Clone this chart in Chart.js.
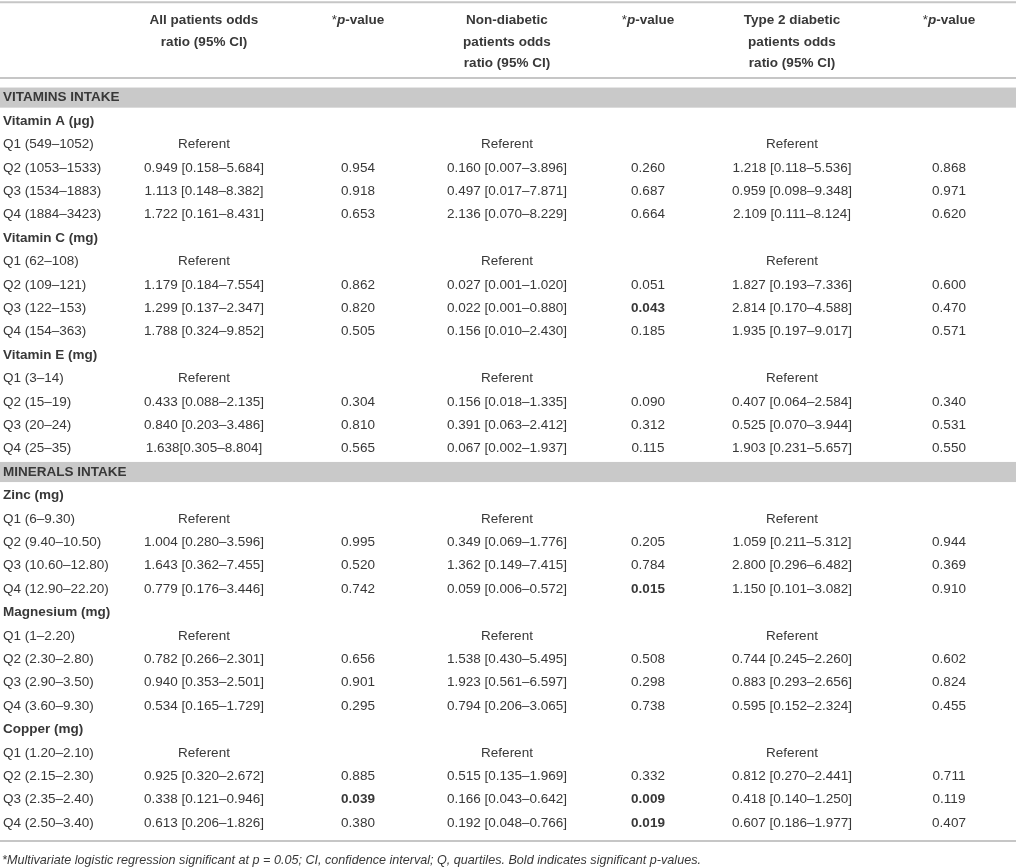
<!DOCTYPE html>
<html>
<head>
<meta charset="utf-8">
<title>Odds ratios by vitamin and mineral intake</title>
<script src="https://cdn.jsdelivr.net/npm/chart.js@4.4.1/dist/chart.umd.min.js"></script>
<style>
  html, body { margin: 0; padding: 0; background: #fff; }
  #wrap { width: 1016px; height: 868px; position: relative; }
</style>
</head>
<body>
<div id="wrap"><canvas id="orTable"></canvas></div>
<script>
// ---- data ----
const sections = ["VITAMINS INTAKE", "MINERALS INTAKE"];
const nutrients = ["Vitamin A (μg)", "Vitamin C (mg)", "Vitamin E (mg)", "Zinc (mg)", "Magnesium (mg)", "Copper (mg)"];
const nutrientSection = [0, 0, 0, 1, 1, 1];
const quartileRanges = [
  ["549–1052", "1053–1533", "1534–1883", "1884–3423"],
  ["62–108", "109–121", "122–153", "154–363"],
  ["3–14", "15–19", "20–24", "25–35"],
  ["6–9.30", "9.40–10.50", "10.60–12.80", "12.90–22.20"],
  ["1–2.20", "2.30–2.80", "2.90–3.50", "3.60–9.30"],
  ["1.20–2.10", "2.15–2.30", "2.35–2.40", "2.50–3.40"]
];

// odds ratios for Q2..Q4 (Q1 is the referent)
const allOR = [
  ["0.949 [0.158–5.684]", "1.113 [0.148–8.382]", "1.722 [0.161–8.431]"],
  ["1.179 [0.184–7.554]", "1.299 [0.137–2.347]", "1.788 [0.324–9.852]"],
  ["0.433 [0.088–2.135]", "0.840 [0.203–3.486]", "1.638[0.305–8.804]"],
  ["1.004 [0.280–3.596]", "1.643 [0.362–7.455]", "0.779 [0.176–3.446]"],
  ["0.782 [0.266–2.301]", "0.940 [0.353–2.501]", "0.534 [0.165–1.729]"],
  ["0.925 [0.320–2.672]", "0.338 [0.121–0.946]", "0.613 [0.206–1.826]"]
];
const allP = [
  [0.954, 0.918, 0.653], [0.862, 0.820, 0.505], [0.304, 0.810, 0.565],
  [0.995, 0.520, 0.742], [0.656, 0.901, 0.295], [0.885, 0.039, 0.380]
];
const nonDiabeticOR = [
  ["0.160 [0.007–3.896]", "0.497 [0.017–7.871]", "2.136 [0.070–8.229]"],
  ["0.027 [0.001–1.020]", "0.022 [0.001–0.880]", "0.156 [0.010–2.430]"],
  ["0.156 [0.018–1.335]", "0.391 [0.063–2.412]", "0.067 [0.002–1.937]"],
  ["0.349 [0.069–1.776]", "1.362 [0.149–7.415]", "0.059 [0.006–0.572]"],
  ["1.538 [0.430–5.495]", "1.923 [0.561–6.597]", "0.794 [0.206–3.065]"],
  ["0.515 [0.135–1.969]", "0.166 [0.043–0.642]", "0.192 [0.048–0.766]"]
];
const nonDiabeticP = [
  [0.260, 0.687, 0.664], [0.051, 0.043, 0.185], [0.090, 0.312, 0.115],
  [0.205, 0.784, 0.015], [0.508, 0.298, 0.738], [0.332, 0.009, 0.019]
];
const type2OR = [
  ["1.218 [0.118–5.536]", "0.959 [0.098–9.348]", "2.109 [0.111–8.124]"],
  ["1.827 [0.193–7.336]", "2.814 [0.170–4.588]", "1.935 [0.197–9.017]"],
  ["0.407 [0.064–2.584]", "0.525 [0.070–3.944]", "1.903 [0.231–5.657]"],
  ["1.059 [0.211–5.312]", "2.800 [0.296–6.482]", "1.150 [0.101–3.082]"],
  ["0.744 [0.245–2.260]", "0.883 [0.293–2.656]", "0.595 [0.152–2.324]"],
  ["0.812 [0.270–2.441]", "0.418 [0.140–1.250]", "0.607 [0.186–1.977]"]
];
const type2P = [
  [0.868, 0.971, 0.620], [0.600, 0.470, 0.571], [0.340, 0.531, 0.550],
  [0.944, 0.369, 0.910], [0.602, 0.824, 0.455], [0.711, 0.119, 0.407]
];

const columnHeaders = [
  ["All patients odds", "ratio (95% CI)"],
  ["*p-value"],
  ["Non-diabetic", "patients odds", "ratio (95% CI)"],
  ["*p-value"],
  ["Type 2 diabetic", "patients odds", "ratio (95% CI)"],
  ["*p-value"]
];
const footnote = "*Multivariate logistic regression significant at p = 0.05; CI, confidence interval; Q, quartiles. Bold indicates significant p-values.";
const SIGNIFICANCE = 0.05;

// ---- layout ----
const FONT = '"Liberation Sans", Arial, Helvetica, sans-serif';
const TEXT_COLOR = "#383838";
const BAND_COLOR = "#c9c9c9";
const RULE_COLOR = "#c6c6c6";
const ROW_PX = 23.4;
const FIRST_ROW_PX = 97.6;
const LABEL_X = 3;
const COL_X = [204, 358, 507, 648, 792, 949];
const HEADER_ROWS = [-3.32, -2.38, -1.48];
const RULES = [-4.08, -0.84, 31.77];
const FOOTNOTE_ROW = 32.62;
const BAND_HALF = 0.43;

// ---- build cells ----
const cells = [];
const bandRows = [];

function seg(text, style) { return { text, style: style || "400" }; }
function pSegs() { return [seg("*", "400"), seg("p", "italic 700"), seg("-value", "700")]; }

columnHeaders.forEach((lines, c) => {
  lines.forEach((line, i) => {
    const segs = line === "*p-value" ? pSegs() : [seg(line, "700")];
    cells.push({ x: COL_X[c], y: HEADER_ROWS[i], segs, align: "center" });
  });
});

const orCols = [allOR, nonDiabeticOR, type2OR];
const pCols = [allP, nonDiabeticP, type2P];

let row = 0;
let lastSection = -1;
nutrients.forEach((name, n) => {
  if (nutrientSection[n] !== lastSection) {
    lastSection = nutrientSection[n];
    bandRows.push(row);
    cells.push({ x: LABEL_X, y: row, segs: [seg(sections[lastSection], "700")], align: "left" });
    row++;
  }
  cells.push({ x: LABEL_X, y: row, segs: [seg(name, "700")], align: "left" });
  row++;
  quartileRanges[n].forEach((range, q) => {
    cells.push({ x: LABEL_X, y: row, segs: [seg("Q" + (q + 1) + " (" + range + ")")], align: "left" });
    orCols.forEach((src, k) => {
      const orText = q === 0 ? "Referent" : src[n][q - 1];
      cells.push({ x: COL_X[k * 2], y: row, segs: [seg(orText)], align: "center" });
      if (q > 0) {
        const p = pCols[k][n][q - 1];
        cells.push({ x: COL_X[k * 2 + 1], y: row, segs: [seg(p.toFixed(3), p < SIGNIFICANCE ? "700" : "400")], align: "center" });
      }
    });
    row++;
  });
});

cells.push({ x: 2, y: FOOTNOTE_ROW, segs: [seg(footnote, "italic 400")], align: "left", size: 12.6 });

// ---- drawing plugin ----
const tablePlugin = {
  id: "tableCells",
  beforeDatasetsDraw(chart) {
    const { ctx, chartArea, scales } = chart;
    const y = scales.y;
    ctx.save();
    ctx.fillStyle = BAND_COLOR;
    bandRows.forEach(r => {
      const top = y.getPixelForValue(r - BAND_HALF);
      const bottom = y.getPixelForValue(r + BAND_HALF);
      ctx.fillRect(chartArea.left, top, chartArea.width, bottom - top);
    });
    ctx.strokeStyle = RULE_COLOR;
    ctx.lineWidth = 2;
    RULES.forEach(r => {
      const py = y.getPixelForValue(r);
      ctx.beginPath();
      ctx.moveTo(chartArea.left, py);
      ctx.lineTo(chartArea.right, py);
      ctx.stroke();
    });
    ctx.restore();
  },
  afterDatasetsDraw(chart) {
    const { ctx } = chart;
    const meta = chart.getDatasetMeta(0);
    ctx.save();
    ctx.fillStyle = TEXT_COLOR;
    ctx.textBaseline = "middle";
    ctx.textAlign = "left";
    meta.data.forEach((pt, i) => {
      const cell = cells[i];
      const size = cell.size || 13.5;
      const widths = cell.segs.map(s => {
        ctx.font = s.style + " " + size + "px " + FONT;
        return ctx.measureText(s.text).width;
      });
      const total = widths.reduce((a, b) => a + b, 0);
      let x = cell.align === "center" ? pt.x - total / 2 : pt.x;
      cell.segs.forEach((s, j) => {
        ctx.font = s.style + " " + size + "px " + FONT;
        ctx.fillText(s.text, x, pt.y);
        x += widths[j];
      });
    });
    ctx.restore();
  }
};

const yMin = -FIRST_ROW_PX / ROW_PX;
const yMax = yMin + 868 / ROW_PX;

new Chart(document.getElementById("orTable").getContext("2d"), {
  type: "scatter",
  data: {
    datasets: [{
      data: cells,
      pointRadius: 0,
      pointHoverRadius: 0
    }]
  },
  options: {
    responsive: true,
    maintainAspectRatio: false,
    animation: false,
    events: [],
    layout: { padding: 0 },
    plugins: {
      legend: { display: false },
      tooltip: { enabled: false }
    },
    scales: {
      x: { type: "linear", min: 0, max: 1016, display: false },
      y: { type: "linear", min: yMin, max: yMax, reverse: true, display: false }
    }
  },
  plugins: [tablePlugin]
});
</script>
</body>
</html>
